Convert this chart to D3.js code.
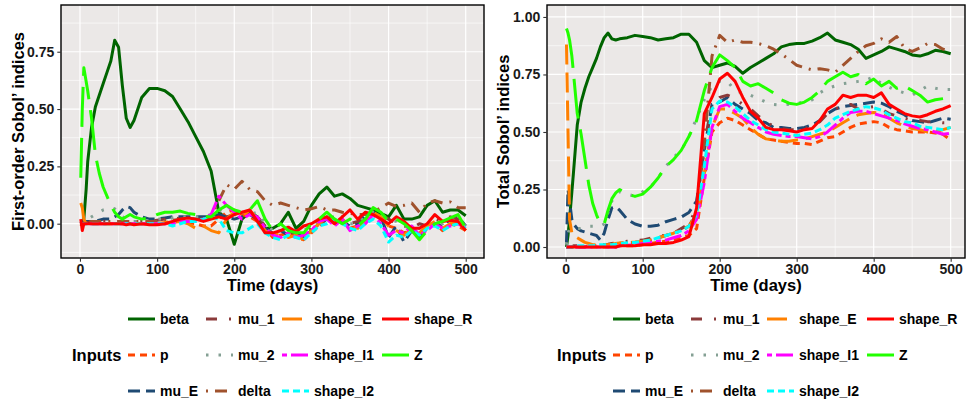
<!DOCTYPE html>
<html><head><meta charset="utf-8">
<script src="https://cdn.jsdelivr.net/npm/d3@7"></script>
<style>
body{margin:0;background:#fff}
text{font-family:"Liberation Sans",Arial,Helvetica,sans-serif;font-weight:bold}
</style>
</head><body>
<svg id="chart" width="966" height="399"></svg>
<script>
// ---------------- DATA ----------------
const days = [1,3,5,8,10,15,20,25,30,35,40,45,50,55,60,65,70,80,90,100,110,120,130,140,150,160,170,180,190,200,210,220,230,240,250,260,270,280,290,300,310,320,330,340,350,360,370,380,390,400,410,420,430,440,450,460,470,480,490,500];

const inputs = ["beta","p","mu_E","mu_1","mu_2","delta","shape_E","shape_I1","shape_I2","shape_R","Z"];

const yTicksFirst = [0, 0.25, 0.5, 0.75];
const yTicksTotal = [0, 0.25, 0.5, 0.75, 1];
const xTicks = [0, 100, 200, 300, 400, 500];

// First-order Sobol' indices
const s1_beta = [0.0,0.0,0.02,0.15,0.27,0.42,0.51,0.56,0.61,0.66,0.71,0.80,0.77,0.60,0.46,0.42,0.45,0.55,0.59,0.59,0.58,0.555,0.50,0.445,0.38,0.315,0.23,0.05,0.02,-0.09,0.02,0.05,0.03,-0.02,-0.02,0.0,0.05,-0.02,0.01,0.08,0.13,0.16,0.12,0.13,0.11,0.08,0.07,0.06,0.045,0.03,0.08,0.02,0.02,0.03,0.08,0.10,0.05,0.06,0.06,0.035];
const s1_p = [-0.01,0.0,0.0,0.0,0.0,0.0,0.0,0.0,0.0,0.0,0.0,0.0,0.0,0.0,0.0,0.0,0.0,0.0,0.0,0.0,0.0,0.005,0.01,0.005,0.0,-0.01,-0.01,0.02,0.05,0.06,0.04,0.03,0.01,-0.02,-0.06,-0.05,-0.04,-0.06,-0.07,-0.04,-0.01,0.02,0.0,0.01,-0.02,-0.01,0.02,0.04,0.02,-0.01,-0.02,-0.04,-0.03,-0.05,-0.02,0.0,-0.03,0.0,-0.01,-0.03];
const s1_mu_E = [0.0,0.01,0.01,0.01,0.01,0.01,0.01,0.015,0.02,0.02,0.02,0.03,0.04,0.06,0.075,0.07,0.05,0.03,0.02,0.02,0.025,0.03,0.03,0.03,0.03,0.03,0.03,0.04,0.03,0.02,0.03,0.04,0.02,-0.02,-0.04,-0.03,-0.05,-0.04,-0.06,-0.03,0.0,0.02,0.03,0.01,-0.01,0.0,0.04,0.05,0.03,-0.06,-0.01,-0.08,-0.03,-0.06,-0.02,0.0,-0.01,0.02,0.03,-0.01];
const s1_mu_1 = [0.0,0.0,0.0,0.005,0.005,0.005,0.01,0.01,0.01,0.01,0.01,0.01,0.01,0.01,0.01,0.01,0.01,0.01,0.01,0.015,0.02,0.02,0.025,0.02,0.02,0.02,0.03,0.05,0.03,0.04,0.03,0.05,0.03,-0.01,-0.04,-0.04,-0.03,-0.05,-0.04,-0.02,0.0,0.03,0.02,0.03,0.0,0.01,0.03,0.06,0.04,0.02,0.0,-0.01,-0.02,0.0,-0.01,0.02,0.01,0.03,0.02,0.0];
const s1_mu_2 = [0.0,0.0,0.01,0.015,0.02,0.03,0.04,0.05,0.06,0.065,0.07,0.065,0.05,0.03,0.02,0.01,0.01,0.01,0.015,0.02,0.02,0.025,0.03,0.03,0.03,0.03,0.04,0.06,0.04,0.03,0.05,0.04,0.05,0.0,-0.03,-0.03,-0.02,-0.04,-0.03,-0.01,0.01,0.03,0.02,0.01,0.0,0.0,0.03,0.05,0.04,0.02,0.01,-0.01,-0.02,-0.02,-0.01,0.01,0.0,0.02,0.01,-0.01];
const s1_delta = [0.0,0.0,0.0,0.005,0.005,0.01,0.01,0.01,0.01,0.01,0.01,0.01,0.01,0.01,0.01,0.01,0.01,0.01,0.01,0.01,0.015,0.015,0.02,0.02,0.02,0.02,0.03,0.10,0.17,0.15,0.185,0.15,0.14,0.10,0.08,0.09,0.08,0.07,0.06,0.065,0.075,0.06,0.06,0.05,0.045,0.04,0.04,0.05,0.07,0.09,0.075,0.08,0.09,0.05,0.09,0.10,0.09,0.095,0.07,0.07];
const s1_shape_E = [0.09,0.07,0.02,0.0,0.0,0.0,0.0,0.0,0.0,0.0,0.0,0.0,0.0,0.0,0.0,0.0,0.0,0.0,0.0,0.0,0.005,0.01,0.01,0.0,-0.02,-0.01,-0.03,-0.04,0.02,0.05,0.03,0.06,0.02,-0.03,-0.05,-0.04,-0.06,-0.05,-0.07,-0.03,0.0,0.03,0.01,0.02,-0.01,-0.02,0.01,0.05,0.03,-0.01,-0.03,-0.05,-0.02,-0.04,-0.01,0.01,-0.02,0.0,0.01,-0.03];
const s1_shape_I1 = [0.0,0.0,0.0,0.0,0.0,0.0,0.0,0.0,0.0,0.0,0.0,0.0,0.0,0.0,0.0,0.0,0.0,0.0,0.0,0.0,0.0,0.0,0.01,0.01,0.01,0.02,0.04,0.12,0.08,0.05,0.02,0.04,0.03,-0.02,-0.05,-0.06,-0.04,-0.06,-0.05,-0.03,0.01,0.02,-0.01,0.02,-0.03,-0.01,0.0,0.04,0.0,-0.05,-0.03,-0.04,-0.01,-0.05,-0.03,0.0,-0.02,-0.01,0.0,-0.02];
const s1_shape_I2 = [0.0,0.0,0.0,0.0,0.0,0.0,0.0,0.0,0.0,0.0,0.0,0.0,0.0,0.0,0.0,0.0,0.0,0.0,0.0,0.0,0.0,-0.01,0.0,0.01,0.01,0.02,0.03,0.02,-0.03,-0.04,-0.04,-0.02,0.0,-0.04,-0.06,-0.07,-0.05,-0.06,-0.07,-0.04,-0.01,0.0,0.02,0.0,-0.02,-0.03,0.0,0.02,-0.01,-0.08,-0.05,-0.06,-0.03,-0.05,-0.02,-0.01,-0.03,-0.01,0.0,-0.02];
const s1_shape_R = [0.02,-0.03,0.0,0.0,0.0,0.0,0.0,0.0,0.0,0.0,0.0,0.0,0.0,0.0,-0.005,0.0,-0.005,0.0,-0.005,-0.005,0.0,0.01,0.02,0.025,0.02,0.01,0.02,0.03,0.02,0.04,0.05,0.06,0.01,-0.04,-0.04,-0.03,-0.015,-0.035,-0.01,0.0,0.02,0.03,0.0,0.03,0.06,0.02,0.05,0.04,0.02,0.0,0.03,0.01,-0.02,-0.02,0.0,0.04,0.01,0.015,0.01,-0.03];
const s1_Z = [0.2,0.5,0.68,0.62,0.58,0.46,0.30,0.22,0.16,0.12,0.08,0.05,0.03,0.02,0.03,0.04,0.03,0.02,0.025,0.04,0.05,0.05,0.055,0.045,0.04,0.03,0.03,0.06,0.08,0.06,0.05,0.06,0.10,0.02,-0.03,0.0,-0.03,-0.04,-0.04,0.0,0.02,0.05,0.02,0.0,0.02,-0.01,0.02,0.07,0.05,0.01,0.02,0.0,-0.03,-0.07,-0.03,0.0,0.01,0.025,0.04,-0.02];

// Total Sobol' indices
const st_beta = [0.0,0.05,0.12,0.24,0.32,0.53,0.63,0.69,0.74,0.78,0.82,0.87,0.91,0.93,0.905,0.90,0.905,0.91,0.92,0.915,0.91,0.90,0.905,0.91,0.925,0.925,0.89,0.81,0.78,0.79,0.80,0.785,0.755,0.78,0.80,0.82,0.84,0.87,0.88,0.885,0.885,0.895,0.91,0.93,0.90,0.89,0.88,0.86,0.82,0.835,0.85,0.87,0.86,0.85,0.835,0.83,0.84,0.855,0.85,0.84];
const st_p = [0.0,0.0,0.0,0.0,0.0,0.0,0.0,0.0,0.0,0.0,0.0,0.0,0.0,0.0,0.0,0.0,0.005,0.005,0.005,0.01,0.015,0.02,0.025,0.03,0.04,0.05,0.08,0.30,0.50,0.54,0.56,0.55,0.53,0.51,0.49,0.47,0.465,0.46,0.455,0.45,0.45,0.445,0.46,0.475,0.48,0.50,0.52,0.535,0.54,0.545,0.54,0.52,0.51,0.505,0.50,0.50,0.50,0.495,0.49,0.465];
const st_mu_E = [0.02,0.25,0.20,0.12,0.10,0.08,0.07,0.065,0.06,0.055,0.05,0.03,0.06,0.12,0.17,0.175,0.16,0.12,0.10,0.09,0.09,0.095,0.11,0.12,0.13,0.15,0.20,0.42,0.62,0.63,0.65,0.62,0.60,0.58,0.55,0.54,0.52,0.52,0.515,0.515,0.52,0.53,0.55,0.58,0.60,0.61,0.615,0.62,0.625,0.63,0.625,0.61,0.59,0.575,0.55,0.545,0.54,0.55,0.56,0.555];
const st_mu_1 = [0.0,0.0,0.0,0.0,0.005,0.005,0.005,0.005,0.01,0.01,0.01,0.01,0.01,0.012,0.015,0.018,0.02,0.025,0.028,0.03,0.038,0.045,0.052,0.06,0.08,0.10,0.17,0.45,0.62,0.65,0.66,0.645,0.62,0.60,0.57,0.545,0.525,0.515,0.51,0.51,0.515,0.525,0.545,0.58,0.60,0.615,0.62,0.60,0.605,0.61,0.60,0.58,0.57,0.56,0.55,0.55,0.545,0.545,0.54,0.54];
const st_mu_2 = [0.01,0.06,0.08,0.08,0.08,0.08,0.08,0.085,0.09,0.09,0.09,0.09,0.10,0.15,0.20,0.23,0.24,0.23,0.22,0.24,0.26,0.30,0.35,0.39,0.42,0.48,0.56,0.64,0.70,0.72,0.72,0.68,0.67,0.66,0.645,0.63,0.62,0.617,0.62,0.625,0.63,0.64,0.67,0.69,0.70,0.71,0.715,0.72,0.725,0.74,0.71,0.695,0.68,0.67,0.66,0.68,0.70,0.69,0.685,0.685];
const st_delta = [0.0,0.0,0.0,0.0,0.0,0.0,0.0,0.0,0.005,0.005,0.005,0.01,0.01,0.01,0.01,0.01,0.015,0.02,0.02,0.025,0.03,0.04,0.05,0.06,0.07,0.09,0.15,0.45,0.83,0.92,0.89,0.90,0.89,0.89,0.885,0.875,0.86,0.84,0.815,0.79,0.78,0.77,0.775,0.77,0.76,0.79,0.82,0.85,0.875,0.885,0.905,0.89,0.915,0.865,0.85,0.865,0.885,0.88,0.86,0.85];
const st_shape_E = [0.88,0.50,0.12,0.06,0.05,0.04,0.03,0.02,0.015,0.01,0.01,0.01,0.01,0.01,0.012,0.015,0.018,0.02,0.022,0.025,0.03,0.04,0.05,0.06,0.075,0.09,0.14,0.32,0.52,0.60,0.60,0.58,0.56,0.52,0.49,0.47,0.465,0.46,0.46,0.465,0.47,0.48,0.49,0.50,0.52,0.54,0.56,0.575,0.58,0.585,0.58,0.56,0.54,0.525,0.515,0.51,0.50,0.50,0.51,0.52];
const st_shape_I1 = [0.0,0.0,0.0,0.0,0.0,0.0,0.0,0.0,0.0,0.0,0.0,0.0,0.0,0.0,0.0,0.0,0.005,0.008,0.01,0.015,0.02,0.025,0.03,0.04,0.05,0.07,0.12,0.28,0.52,0.61,0.62,0.59,0.56,0.54,0.52,0.50,0.49,0.485,0.48,0.48,0.475,0.47,0.48,0.50,0.53,0.56,0.585,0.59,0.59,0.58,0.57,0.56,0.55,0.535,0.525,0.515,0.51,0.50,0.49,0.495];
const st_shape_I2 = [0.0,0.0,0.0,0.0,0.0,0.005,0.005,0.005,0.005,0.005,0.01,0.01,0.01,0.01,0.01,0.012,0.015,0.018,0.02,0.025,0.03,0.04,0.05,0.06,0.07,0.09,0.14,0.35,0.60,0.635,0.63,0.61,0.58,0.55,0.53,0.51,0.50,0.495,0.49,0.485,0.49,0.495,0.51,0.53,0.56,0.575,0.59,0.60,0.61,0.605,0.595,0.575,0.56,0.545,0.54,0.525,0.52,0.515,0.51,0.52];
const st_shape_R = [0.0,0.0,0.0,0.0,0.0,0.0,0.0,0.0,0.0,0.0,0.0,0.0,0.0,0.0,0.0,0.0,0.005,0.005,0.005,0.01,0.01,0.015,0.015,0.02,0.03,0.045,0.17,0.58,0.65,0.73,0.755,0.72,0.65,0.59,0.56,0.52,0.51,0.51,0.505,0.50,0.51,0.515,0.55,0.60,0.62,0.66,0.65,0.66,0.66,0.65,0.67,0.62,0.60,0.58,0.57,0.565,0.575,0.59,0.60,0.615];
const st_Z = [0.95,0.93,0.90,0.83,0.76,0.58,0.49,0.38,0.27,0.19,0.14,0.10,0.10,0.16,0.21,0.235,0.25,0.23,0.22,0.23,0.26,0.30,0.35,0.38,0.42,0.48,0.55,0.68,0.78,0.835,0.81,0.78,0.72,0.70,0.71,0.69,0.67,0.64,0.625,0.62,0.63,0.65,0.68,0.72,0.74,0.76,0.74,0.75,0.71,0.73,0.70,0.72,0.69,0.70,0.68,0.66,0.63,0.64,0.645,0.65];

// ---------------- STYLE ----------------
const seriesFirst = {beta:s1_beta,p:s1_p,mu_E:s1_mu_E,mu_1:s1_mu_1,mu_2:s1_mu_2,delta:s1_delta,shape_E:s1_shape_E,shape_I1:s1_shape_I1,shape_I2:s1_shape_I2,shape_R:s1_shape_R,Z:s1_Z};
const seriesTotal = {beta:st_beta,p:st_p,mu_E:st_mu_E,mu_1:st_mu_1,mu_2:st_mu_2,delta:st_delta,shape_E:st_shape_E,shape_I1:st_shape_I1,shape_I2:st_shape_I2,shape_R:st_shape_R,Z:st_Z};

const colors = {beta:"#006400",p:"#ff4500",mu_E:"#1f4a73",mu_1:"#8b3a3a",mu_2:"#84a094",delta:"#a0522d",shape_E:"#ff8000",shape_I1:"#ff00ff",shape_I2:"#00ffff",shape_R:"#ff0000",Z:"#22ff00"};
const dashes = {beta:null,p:"7,5",mu_E:"12,6",mu_1:"11,12,2,12",mu_2:"2.5,10",delta:"2,7,12,7",shape_E:"20,8",shape_I1:"5,4,17,4",shape_I2:"7,4",shape_R:null,Z:"40,11"};

const svg = d3.select("#chart");
const LW = 3;

const panels = [
  {id:"p1", data:seriesFirst, left:61, right:484, top:5, bottom:258, xDomain:[-24.6,523.7], yDomain:[-0.1496,0.9538],
   yTicks:yTicksFirst, title:"First-order Sobol\u2019 indices", titleX:18.5, legendX:72},
  {id:"p2", data:seriesTotal, left:547, right:965, top:5, bottom:258, xDomain:[-24.3,518.6], yDomain:[-0.0478,1.052],
   yTicks:yTicksTotal, title:"Total Sobol\u2019 indices", titleX:503.5, legendX:557}
];

panels.forEach(P => {
  const x = d3.scaleLinear().domain(P.xDomain).range([P.left, P.right]);
  const y = d3.scaleLinear().domain(P.yDomain).range([P.bottom, P.top]);
  const g = svg.append("g");

  g.append("rect").attr("x",P.left).attr("y",P.top).attr("width",P.right-P.left).attr("height",P.bottom-P.top)
    .attr("fill","#ebe8e7");

  // minor grid
  const step = P.yTicks[1]-P.yTicks[0];
  const yMinor = d3.range(-1,6).map(i => (i+0.5)*step).filter(v => v>P.yDomain[0] && v<P.yDomain[1]);
  const xMinor = d3.range(-1,6).map(i => (i+0.5)*100).filter(v => v>P.xDomain[0] && v<P.xDomain[1]);
  g.selectAll(".ym").data(yMinor).join("line").attr("x1",P.left).attr("x2",P.right)
    .attr("y1",d=>y(d)).attr("y2",d=>y(d)).attr("stroke","#fff").attr("stroke-width",0.6);
  g.selectAll(".xm").data(xMinor).join("line").attr("y1",P.top).attr("y2",P.bottom)
    .attr("x1",d=>x(d)).attr("x2",d=>x(d)).attr("stroke","#fff").attr("stroke-width",0.6);
  // major grid
  g.selectAll(".yM").data(P.yTicks).join("line").attr("x1",P.left).attr("x2",P.right)
    .attr("y1",d=>y(d)).attr("y2",d=>y(d)).attr("stroke","#fff").attr("stroke-width",1.2);
  g.selectAll(".xM").data(xTicks).join("line").attr("y1",P.top).attr("y2",P.bottom)
    .attr("x1",d=>x(d)).attr("x2",d=>x(d)).attr("stroke","#fff").attr("stroke-width",1.2);

  // clip
  svg.append("clipPath").attr("id","clip-"+P.id).append("rect")
    .attr("x",P.left).attr("y",P.top).attr("width",P.right-P.left).attr("height",P.bottom-P.top);

  const line = d3.line().x((d,i)=>x(days[i])).y(d=>y(d));
  const lg = g.append("g").attr("clip-path","url(#clip-"+P.id+")");
  inputs.forEach(k => {
    lg.append("path").datum(P.data[k]).attr("d",line)
      .attr("fill","none").attr("stroke",colors[k]).attr("stroke-width",LW)
      .attr("stroke-linejoin","round").attr("stroke-linecap","butt")
      .attr("stroke-dasharray",dashes[k]);
  });

  // border
  g.append("rect").attr("x",P.left).attr("y",P.top).attr("width",P.right-P.left).attr("height",P.bottom-P.top)
    .attr("fill","none").attr("stroke","#000").attr("stroke-width",1.4);

  // axes
  const ax = g.append("g").attr("transform",`translate(${P.left},0)`)
    .call(d3.axisLeft(y).tickValues(P.yTicks).tickFormat(d3.format(".2f")).tickSize(3.7).tickPadding(3));
  const bx = g.append("g").attr("transform",`translate(0,${P.bottom})`)
    .call(d3.axisBottom(x).tickValues(xTicks).tickFormat(d3.format("d")).tickSize(3.7).tickPadding(2));
  [ax,bx].forEach(a => {
    a.select(".domain").remove();
    a.selectAll(".tick line").attr("stroke","#333").attr("stroke-width",1.1);
    a.selectAll(".tick text").attr("fill","#1a1a1a").style("font-size","14px")
      .style("font-family","'Liberation Sans',Arial,sans-serif").style("font-weight","bold");
  });

  // titles
  g.append("text").attr("transform",`translate(${P.titleX},${(P.top+P.bottom)/2}) rotate(-90)`)
    .attr("text-anchor","middle").attr("dy","0.35em").style("font-size","16.5px").attr("fill","#000").text(P.title);
  g.append("text").attr("x",(P.left+P.right)/2).attr("y",291).attr("text-anchor","middle")
    .style("font-size","16.5px").attr("fill","#000").text("Time (days)");

  // legend
  const leg = svg.append("g").attr("transform",`translate(${P.legendX},0)`);
  const rowsY = [319,355,391];
  const colX = [56,134,210,310];
  leg.append("text").attr("x",0).attr("y",rowsY[1]).attr("dy","0.35em").style("font-size","16.5px").attr("fill","#000").text("Inputs");
  inputs.forEach((k,i) => {
    const c = Math.floor(i/3), r = i%3;
    const it = leg.append("g").attr("transform",`translate(${colX[c]},${rowsY[r]})`);
    it.append("line").attr("x1",0).attr("x2",27).attr("y1",0).attr("y2",0)
      .attr("stroke",colors[k]).attr("stroke-width",LW).attr("stroke-dasharray",dashes[k]).attr("stroke-linecap","butt");
    it.append("text").attr("x",32).attr("dy","0.35em").style("font-size","14px").attr("fill","#000").text(k);
  });
});
</script>
</body></html>
